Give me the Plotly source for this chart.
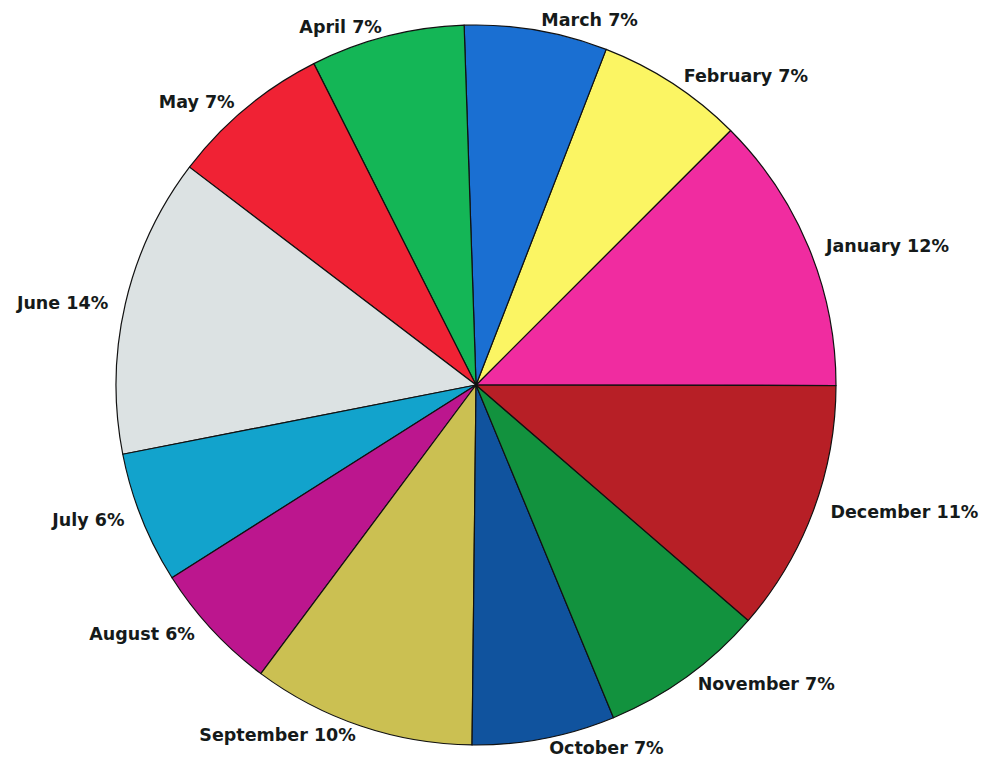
import math
import plotly.graph_objects as go

months = ["January", "February", "March", "April", "May", "June",
          "July", "August", "September", "October", "November", "December"]
shares = [12.5, 6.6, 6.4, 6.9, 7.2, 13.4, 5.9, 5.8, 10.0, 6.4, 7.4, 11.3]
pct_labels = ["12%", "7%", "7%", "7%", "7%", "14%", "6%", "6%", "10%", "7%", "7%", "11%"]
colors = ["#f02ca0", "#fbf563", "#1a6fd2", "#14b656", "#f02234", "#dce2e3",
          "#12a3cc", "#bc168e", "#cbc052", "#10539e", "#12923e", "#b71f26"]

# label text, padded with non-breaking spaces on the side facing the pie
total = sum(shares)
display = []
cum = 0.0
NB = "\u00a0"
for m, p, v in zip(months, pct_labels, shares):
    mid = math.radians(360.0 * (cum + v / 2.0) / total)
    cum += v
    c = math.cos(mid)
    n = 2 if abs(c) > 0.7 else (1 if abs(c) > 0.35 else 0)
    txt = f"{m} {p}"
    if c > 0:
        txt = NB * n + txt
    else:
        txt = txt + NB * n
    display.append(txt)

fig = go.Figure(go.Pie(
    labels=months,
    values=shares,
    text=display,
    texttemplate="%{text}",
    textposition="outside",
    sort=False,
    direction="counterclockwise",
    rotation=45,
    automargin=False,
    marker=dict(colors=colors, line=dict(color="#111111", width=1.2)),
    textfont=dict(family="DejaVu Sans", size=17.5, color="#151a1a", weight="bold"),
    showlegend=False,
    hoverinfo="skip",
    domain=dict(x=[0.1091, 0.8364], y=[0.0341, 0.9777]),
))

fig.update_layout(
    width=990, height=763,
    margin=dict(l=0, r=0, t=0, b=0, autoexpand=False),
    paper_bgcolor="white",
    plot_bgcolor="white",
)

fig.write_html("out.html")
